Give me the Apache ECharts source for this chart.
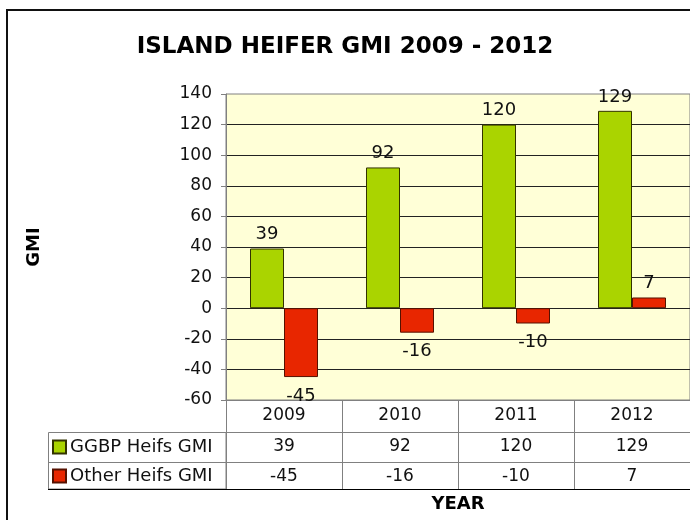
<!DOCTYPE html>
<html>
<head>
<meta charset="utf-8">
<script src="https://cdn.jsdelivr.net/npm/echarts@6/dist/echarts.min.js"></script>
<style>
  html, body { margin: 0; padding: 0; background: #fff; }
  #chart { width: 690px; height: 520px; }
</style>
</head>
<body>
<div id="chart"></div>
<script>
var years = ['2009', '2010', '2011', '2012'];
var ggbpValues = [39, 92, 120, 129];
var otherValues = [-45, -16, -10, 7];
var seriesNames = ['GGBP Heifs GMI', 'Other Heifs GMI'];

var font = 'DejaVu Sans, Verdana, sans-serif';

function barData(values) {
    return values.map(function (v) {
        return { value: v, label: { position: v < 0 ? 'bottom' : 'top', distance: v < 0 ? 10 : 5 } };
    });
}

function tableAxis(offset, values, lineColor) {
    return {
        type: 'category',
        data: years,
        position: 'bottom',
        offset: offset,
        axisLine: { show: true, onZero: false, lineStyle: { color: lineColor, width: 1 } },
        axisTick: { show: false },
        axisLabel: values ? {
            show: true, margin: 6, fontSize: 17, color: '#111', fontFamily: font,
            formatter: function (v, i) { return String(values[i]); }
        } : { show: false }
    };
}

function chart() {
    var dom = document.getElementById('chart');
    var myChart = echarts.init(dom);
    var option = {
        animation: false,
        textStyle: { fontFamily: font },
        title: {
            text: 'ISLAND HEIFER GMI 2009 - 2012',
            left: 'center',
            top: 31,
            textStyle: { fontSize: 23, fontWeight: 'bold', color: '#000', fontFamily: font }
        },
        legend: {
            orient: 'vertical',
            left: 52,
            top: 438,
            padding: 0,
            itemWidth: 13,
            itemHeight: 13,
            itemGap: 11,
            icon: 'rect',
            data: seriesNames,
            textStyle: { fontSize: 18, color: '#111', fontFamily: font, padding: [0, 0, 0, -1] }
        },
        grid: {
            left: 226, right: 0, top: 94, bottom: 120,
            outerBoundsMode: 'none',
            containLabel: false,
            show: true,
            backgroundColor: '#FFFFD7',
            borderColor: '#808080',
            borderWidth: 1
        },
        xAxis: [
            {
                type: 'category',
                data: years,
                position: 'bottom',
                axisLine: { show: true, onZero: false, lineStyle: { color: '#808080' } },
                axisTick: { show: true, length: 89, lineStyle: { color: '#808080' } },
                axisLabel: { margin: 7, fontSize: 17, color: '#111', fontFamily: font }
            },
            tableAxis(32, ggbpValues, '#808080'),
            tableAxis(62, otherValues, '#808080'),
            (function () {
                var a = tableAxis(89, null, '#000');
                a.name = 'YEAR';
                a.nameLocation = 'middle';
                a.nameGap = 6;
                a.nameTextStyle = { fontSize: 18, fontWeight: 'bold', color: '#000', fontFamily: font };
                return a;
            })()
        ],
        yAxis: {
            type: 'value',
            min: -60,
            max: 140,
            interval: 20,
            name: 'GMI',
            nameLocation: 'middle',
            nameRotate: 90,
            nameGap: 183,
            nameTextStyle: { fontSize: 18, fontWeight: 'bold', color: '#000', fontFamily: font },
            axisLine: { show: true, lineStyle: { color: '#808080' } },
            axisTick: { show: true, length: 5, lineStyle: { color: '#808080' } },
            axisLabel: { margin: 14, fontSize: 17, color: '#111', fontFamily: font },
            splitLine: { show: true, showMinLine: false, showMaxLine: false, lineStyle: { color: '#222', width: 1 } }
        },
        series: [
            {
                name: seriesNames[0],
                type: 'bar',
                xAxisIndex: 0,
                barWidth: 34,
                barGap: '0%',
                data: barData(ggbpValues),
                itemStyle: { color: '#AAD400', borderColor: '#333300', borderWidth: 1 },
                label: { show: true, fontSize: 18, color: '#111', fontFamily: font }
            },
            {
                name: seriesNames[1],
                type: 'bar',
                xAxisIndex: 0,
                barWidth: 34,
                barGap: '0%',
                data: barData(otherValues),
                itemStyle: { color: '#E82600', borderColor: '#551100', borderWidth: 1 },
                label: { show: true, fontSize: 18, color: '#111', fontFamily: font }
            }
        ],
        graphic: [
            {
                type: 'rect',
                shape: { x: 7, y: 10, width: 700, height: 530 },
                style: { fill: 'none', stroke: '#111', lineWidth: 2 },
                silent: true, z: -10
            },
            {
                type: 'rect',
                shape: { x: 48.5, y: 432.5, width: 177.5, height: 56.5 },
                style: { fill: 'none', stroke: '#808080', lineWidth: 1 },
                silent: true
            },
            {
                type: 'line',
                shape: { x1: 48, y1: 462.5, x2: 226, y2: 462.5 },
                style: { stroke: '#808080', lineWidth: 1 },
                silent: true
            },
            {
                type: 'line',
                shape: { x1: 48, y1: 489.5, x2: 226, y2: 489.5 },
                style: { stroke: '#000', lineWidth: 1 },
                silent: true
            }
        ]
    };
    myChart.setOption(option, true);
}

chart();
</script>
</body>
</html>
